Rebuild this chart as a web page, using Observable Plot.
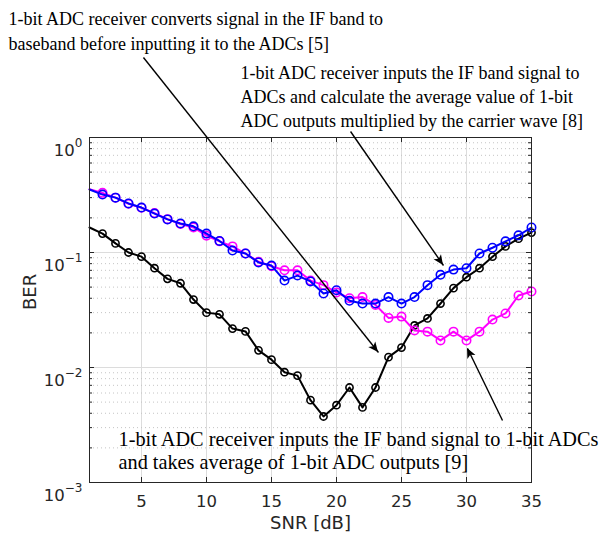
<!DOCTYPE html>
<html><head><meta charset="utf-8">
<script src="https://cdn.jsdelivr.net/npm/d3@7"></script>
<script src="https://cdn.jsdelivr.net/npm/@observablehq/plot@0.6"></script>
<style>html,body{margin:0;padding:0;background:#fff;} #chart{width:612px;height:533px;}</style>
</head><body><div id="chart"></div>
<script>
// ---- data ----
const snr = [1,2,3,4,5,6,7,8,9,10,11,12,13,14,15,16,17,18,19,20,21,22,23,24,25,26,27,28,29,30,31,32,33,34,35];
const berBlack = [0.165,0.146,0.12,0.10,0.092,0.073,0.059,0.054,0.039,0.030,0.029,0.0218,0.0206,0.0141,0.0117,0.0091,0.0085,0.0052,0.00375,0.0047,0.0067,0.0045,0.0067,0.0123,0.0149,0.0232,0.0267,0.036,0.049,0.061,0.073,0.092,0.113,0.132,0.149];
const berMagenta = [0.355,0.33,0.30,0.265,0.245,0.22,0.195,0.177,0.165,0.14,0.125,0.113,0.098,0.083,0.076,0.070,0.070,0.057,0.052,0.045,0.040,0.041,0.035,0.027,0.0277,0.021,0.0205,0.0172,0.0205,0.0172,0.0205,0.0261,0.0295,0.0423,0.0458];
const berBlue = [0.353,0.319,0.300,0.267,0.246,0.218,0.194,0.179,0.169,0.146,0.126,0.104,0.098,0.082,0.077,0.057,0.063,0.056,0.044,0.047,0.038,0.036,0.036,0.041,0.036,0.041,0.052,0.064,0.071,0.073,0.098,0.110,0.125,0.141,0.165];
const xTicks = [5,10,15,20,25,30,35];
const yTicks = [0.001,0.01,0.1,1];
const yTickLabels = ["10^\u22123","10^\u22122","10^\u22121","10^0"];
const xLabel = "SNR [dB]";
const yLabel = "BER";
const noteTexts = [
  "1-bit ADC receiver converts signal in the IF band to\nbaseband before inputting it to the ADCs [5]",
  "1-bit ADC receiver inputs the IF band signal to\nADCs and calculate the average value of 1-bit\nADC outputs multiplied by the carrier wave [8]",
  "1-bit ADC receiver inputs the IF band signal to 1-bit ADCs\nand takes average of 1-bit ADC outputs [9]"
];
// annotation anchors (data coordinates)
const noteX = [-5.23, 12.62, 3.23];
const noteY = [5.82, 1.222, 0.0013];
const arrowFromX = [5.15, 21.08, 32.77];
const arrowFromY = [4.96, 1.128, 0.00346];
const arrowToX = [23.23, 28.23, 30.08];
const arrowToY = [0.0135, 0.0771, 0.01463];

// ---- layout ----
const W = 612, H = 533, mL = 89, mR = 81, mT = 137, mB = 51;
const PW = W - mL - mR, PH = H - mT - mB;
const axisColor = "#262626";

const series = [
  {values: berBlack, color: "#000000", r: 3.6},
  {values: berMagenta, color: "#ff00ff", r: 4.2},
  {values: berBlue, color: "#0000ff", r: 4.2}
];
const yMinor = yTicks.slice(0, 3).flatMap(d => [2,3,4,5,6,7,8,9].map(k => k * d));
const notes = noteTexts.map((t, i) => ({text: t, x: noteX[i], y: noteY[i]}));
const arrows = arrowFromX.map((_, i) => ({x1: arrowFromX[i], y1: arrowFromY[i], x2: arrowToX[i], y2: arrowToY[i]}));

const marks = [
  Plot.ruleX(xTicks, {x: d => d, stroke: "#dcdcdc"}),
  Plot.ruleY(yMinor, {y: d => d, stroke: "#c4c4c4", strokeDasharray: "1,3"}),
  Plot.ruleY(yTicks, {y: d => d, stroke: "#dcdcdc"}),
];
for (const s of series) {
  const rows = snr.map((x, i) => ({x, y: s.values[i]}));
  marks.push(Plot.line(rows, {x: "x", y: "y", stroke: s.color, strokeWidth: 2}));
  marks.push(Plot.dot(rows.filter(d => d.x >= 2), {x: "x", y: "y", r: s.r, stroke: s.color, strokeWidth: 1.6, fill: "none"}));
}
marks.push(
  Plot.frame({stroke: axisColor, strokeWidth: 1}),
  Plot.tickY(yTicks, {y: d => d, insetRight: PW - 5, stroke: axisColor}),
  Plot.tickY(yTicks, {y: d => d, insetLeft: PW - 5, stroke: axisColor}),
  Plot.tickY(yMinor, {y: d => d, insetRight: PW - 3, stroke: axisColor}),
  Plot.tickY(yMinor, {y: d => d, insetLeft: PW - 3, stroke: axisColor}),
  Plot.tickX(xTicks, {x: d => d, insetTop: PH - 5, stroke: axisColor}),
  Plot.tickX(xTicks, {x: d => d, insetBottom: PH - 5, stroke: axisColor}),
  Plot.axisX({ticks: xTicks, tickSize: 0, tickPadding: 13, fontSize: 16.5, color: axisColor, label: null}),
  Plot.axisY({ticks: yTicks, tickSize: 0, tickPadding: 7, fontSize: 16.5, color: axisColor, label: null,
    tickFormat: d => yTickLabels[yTicks.indexOf(d)]}),
  Plot.text([xLabel], {text: d => d, frameAnchor: "bottom", dy: 46, lineAnchor: "bottom", fontSize: 18, fill: axisColor}),
  Plot.text([yLabel], {text: d => d, frameAnchor: "left", dx: -54, rotate: -90, lineAnchor: "bottom", fontSize: 18, fill: axisColor}),
  Plot.link(arrows, {x1: "x1", y1: "y1", x2: "x2", y2: "y2", stroke: "black", strokeWidth: 1.4}),
  Plot.text(notes.slice(0, 2), {x: "x", y: "y", text: "text", textAnchor: "start", lineAnchor: "bottom", lineHeight: 1.35,
    fontFamily: "Liberation Serif", fontSize: 18, fill: "black"}),
  Plot.text(notes.slice(2), {x: "x", y: "y", text: "text", textAnchor: "start", lineAnchor: "bottom", lineHeight: 1.17,
    fontFamily: "Liberation Serif", fontSize: 20.3, fill: "black"})
);

const plot = Plot.plot({
  width: W, height: H,
  marginLeft: mL, marginRight: mR, marginTop: mT, marginBottom: mB,
  style: {fontFamily: "DejaVu Sans", background: "white", overflow: "visible"},
  x: {domain: [1, 35]},
  y: {type: "log", domain: [0.001, 1]},
  marks
});
document.getElementById("chart").appendChild(plot);

// superscript exponents on y tick labels
plot.querySelectorAll('g[aria-label="y-axis tick label"] text').forEach(t => {
  const parts = t.textContent.split("^");
  if (parts.length !== 2) return;
  t.textContent = "";
  t.setAttribute("dy", "13px");
  const base = document.createElementNS("http://www.w3.org/2000/svg", "tspan");
  base.textContent = parts[0];
  const sup = document.createElementNS("http://www.w3.org/2000/svg", "tspan");
  sup.textContent = parts[1];
  sup.setAttribute("font-size", "12");
  sup.setAttribute("dy", "-9");
  t.appendChild(base); t.appendChild(sup);
});

// filled arrow heads, positioned through the plot's scales
const sx = plot.scale("x"), sy = plot.scale("y");
const fx = d3.scaleLinear(sx.domain, sx.range);
const fy = d3.scaleLog(sy.domain, sy.range);
const g = d3.select(plot).append("g").attr("aria-label", "arrow heads");
for (const a of arrows) {
  const X1 = fx(a.x1), Y1 = fy(a.y1), X2 = fx(a.x2), Y2 = fy(a.y2);
  const L = Math.hypot(X2 - X1, Y2 - Y1), ux = (X2 - X1) / L, uy = (Y2 - Y1) / L;
  const nx = -uy, ny = ux, hl = 10, hw = 4.5, notch = 7.5;
  const pts = [[X2, Y2], [X2 - hl*ux + hw*nx, Y2 - hl*uy + hw*ny], [X2 - notch*ux, Y2 - notch*uy], [X2 - hl*ux - hw*nx, Y2 - hl*uy - hw*ny]];
  g.append("polygon").attr("points", pts.map(p => p.join(",")).join(" ")).attr("fill", "black");
}
</script>
</body></html>
